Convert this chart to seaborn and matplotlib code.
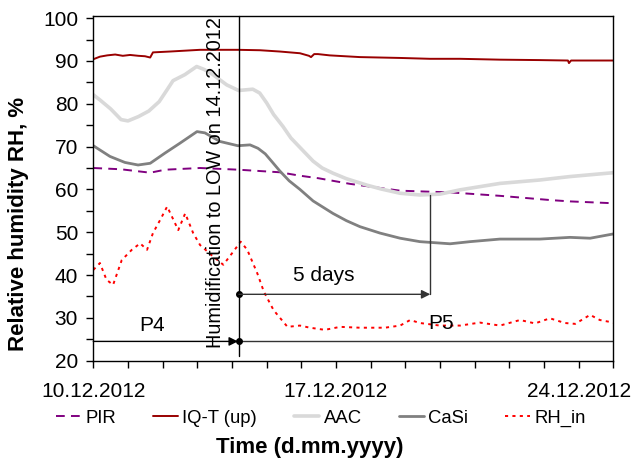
import matplotlib
matplotlib.use("Agg")
import matplotlib.pyplot as plt
import seaborn as sns
import pandas as pd
from matplotlib.ticker import MultipleLocator

# ---------------- data (days after 10.12.2012, RH in %) ----------------
tick_days = [0, 7, 14]
tick_labels = ["10.12.2012", "17.12.2012", "24.12.2012"]

pir_day = [0, 0.8, 1.64, 2.07, 3.08, 4.19, 5.38, 5.96, 6.5, 7.4, 8.85, 10.3, 11.73, 13.2, 13.75, 14.9]
pir_rh = [65.0, 64.7, 63.9, 64.6, 65.0, 64.6, 64.0, 63.2, 62.6, 61.3, 59.7, 59.3, 58.5, 57.5, 57.2, 56.8]

iqt_day = [0, 0.19, 0.4, 0.63, 0.85, 1.06, 1.3, 1.49, 1.64, 1.72, 2.21, 3.08, 4.17, 4.81, 5.38,
           5.96, 6.22, 6.28, 6.37, 6.48, 6.82, 7.69, 8.85, 9.71, 10.58, 11.73, 12.88, 13.69, 13.72, 13.78, 15.0]
iqt_rh = [90.4, 91.0, 91.3, 91.5, 91.2, 91.4, 91.2, 91.1, 90.8, 92.0, 92.2, 92.6, 92.6, 92.5, 92.2,
          91.8, 91.2, 90.9, 91.6, 91.6, 91.3, 90.9, 90.7, 90.5, 90.5, 90.3, 90.2, 90.1, 89.5, 90.1, 90.1]

aac_day = [0, 0.19, 0.5, 0.8, 1.0, 1.3, 1.6, 1.9, 2.13, 2.3, 2.64, 2.98, 3.2, 3.45, 3.85, 4.19, 4.6,
           4.8, 5.0, 5.2, 5.47, 5.7, 5.96, 6.34, 6.6, 6.91, 7.3, 7.89, 8.3, 8.85, 9.42, 10.0, 10.58,
           11.73, 12.88, 13.75, 15.0]
aac_rh = [82.1, 80.9, 78.8, 76.3, 76.0, 77.0, 78.3, 80.5, 83.3, 85.4, 86.8, 88.7, 88.0, 86.8, 84.4, 83.1, 83.4,
          82.5, 80.2, 77.5, 74.7, 72.0, 69.8, 66.6, 65.0, 63.8, 62.5, 61.0, 60.1, 59.1, 58.7, 58.9, 59.9,
          61.4, 62.2, 63.0, 63.9]

casi_day = [0, 0.48, 0.91, 1.29, 1.64, 2.07, 2.5, 2.99, 3.22, 3.65, 4.17, 4.52, 4.75, 4.96, 5.15, 5.38,
            5.65, 5.96, 6.34, 6.91, 7.3, 7.69, 8.27, 8.85, 9.42, 10.29, 10.87, 11.73, 12.88, 13.75,
            14.33, 15.0]
casi_rh = [70.2, 67.7, 66.3, 65.7, 66.1, 68.5, 70.8, 73.5, 73.2, 71.2, 70.2, 70.4, 69.6, 68.3, 66.5, 64.3,
           62.0, 60.0, 57.3, 54.4, 52.7, 51.3, 49.8, 48.6, 47.8, 47.3, 47.8, 48.4, 48.4, 48.8,
           48.6, 49.6]

rhin_day = [0, 0.19, 0.38, 0.57, 0.82, 1.11, 1.35, 1.55, 1.72, 1.93, 2.13, 2.45, 2.65, 2.88, 3.08, 3.46,
            3.75, 4.04, 4.25, 4.44, 4.73, 4.92, 5.2, 5.6, 5.96, 6.25, 6.68, 7.12, 7.69, 8.41, 8.85, 9.14,
            9.42, 10.0, 10.58, 11.15, 11.73, 12.31, 12.74, 13.17, 13.6, 13.9, 14.33, 14.61, 15.0]
rhin_rh = [41.2, 42.8, 38.9, 37.7, 43.5, 45.9, 47.4, 45.9, 49.8, 52.9, 56.0, 50.5, 54.4, 49.8, 47.0, 44.3,
           42.4, 45.5, 47.8, 45.9, 40.4, 36.1, 31.8, 27.9, 28.2, 27.7, 27.2, 27.9, 27.7, 27.7, 28.2, 29.5,
           28.8, 28.2, 28.2, 28.9, 28.2, 29.5, 28.7, 29.9, 28.8, 28.6, 30.7, 29.5, 28.9]

event_day = 4.2          # humidification to LOW
five_day_end = 9.72
p_level = 24.5
arrow_level = 35.5

# ---------------- style ----------------
sns.set_theme(style="ticks")
plt.rcParams['font.family'] = ['Liberation Sans', 'DejaVu Sans']
for k in ['text.color', 'axes.labelcolor', 'xtick.color', 'ytick.color', 'axes.edgecolor']:
    plt.rcParams[k] = 'black'

fig = plt.figure(figsize=(6.34, 4.62), dpi=100)
ax = fig.add_axes([0.1472, 0.2193, 0.8202, 0.7461])

series = [
    ("PIR", pir_day, pir_rh, dict(color="#800080", linewidth=1.4, dashes=(4.5, 3.2))),
    ("IQ-T (up)", iqt_day, iqt_rh, dict(color="#990000", linewidth=1.4)),
    ("AAC", aac_day, aac_rh, dict(color="#D9D9D9", linewidth=2.6)),
    ("CaSi", casi_day, casi_rh, dict(color="#808080", linewidth=2.0)),
    ("RH_in", rhin_day, rhin_rh, dict(color="#FF0000", linewidth=1.4, dashes=(1.6, 2.2))),
]

handles = []
for name, d, v, kw in series:
    df = pd.DataFrame({"day": d, "rh": v})
    dashes = kw.pop("dashes", None)
    sns.lineplot(data=df, x="day", y="rh", ax=ax, label=name, **kw)
    line = ax.get_lines()[-1]
    if dashes is not None:
        line.set_dashes(dashes)
    handles.append(line)

# ---------------- annotations ----------------
line_col = "#333333"
ax.plot([event_day, event_day], [21.0, 100.5], color="black", lw=1.0, clip_on=False)
ax.annotate("", xy=(event_day - 0.03, p_level), xytext=(0, p_level),
            arrowprops=dict(arrowstyle="-|>", color="black", lw=1.0, shrinkA=0, shrinkB=0,
                            mutation_scale=13))
ax.plot([event_day, 15], [p_level, p_level], color=line_col, lw=1.0)
ax.plot([event_day], [p_level], marker="o", ms=4, color="black")

ax.annotate("", xy=(five_day_end, arrow_level), xytext=(event_day, arrow_level),
            arrowprops=dict(arrowstyle="-|>", color=line_col, lw=1.0, shrinkA=0, shrinkB=0,
                            mutation_scale=13))
ax.plot([event_day], [arrow_level], marker="o", ms=4, color="black")
ax.plot([five_day_end, five_day_end], [arrow_level, 58.7], color=line_col, lw=1.0)

ax.text(3.51, 61.6, "Humidification to LOW on 14.12.2012", rotation=90, ha="center", va="center",
        fontsize=14.3)
ax.text(6.65, 40.0, "5 days", ha="center", va="center", fontsize=15)
ax.text(1.68, 28.3, "P4", ha="center", va="center", fontsize=15)
ax.text(10.03, 28.6, "P5", ha="center", va="center", fontsize=15)

# ---------------- axes ----------------
ax.set_xlim(0, 15)
ax.set_ylim(20, 100.5)
ax.set_xticks(tick_days)
ax.set_xticklabels(tick_labels)
ax.xaxis.set_minor_locator(MultipleLocator(1))
ax.yaxis.set_major_locator(MultipleLocator(10))
ax.yaxis.set_minor_locator(MultipleLocator(5))
ax.tick_params(which="both", direction="out", length=5, width=1, color="black")
ax.tick_params(axis="x", which="major", labelsize=15, pad=10)
ax.tick_params(axis="y", which="major", labelsize=15, pad=6)
for sp in ax.spines.values():
    sp.set_color("black")
    sp.set_linewidth(1.0)

ax.set_xlabel("Time (d.mm.yyyy)", fontsize=16, fontweight="bold")
ax.set_ylabel("Relative humidity RH, %", fontsize=16, fontweight="bold")
ax.xaxis.set_label_coords(0.417, -0.221)
ax.yaxis.set_label_coords(-0.124, 0.398)

ax.legend(handles=handles, labels=[s[0] for s in series], loc="center",
          bbox_to_anchor=(0.506, 0.095), bbox_transform=fig.transFigure, ncol=5,
          frameon=False, fontsize=13.3, handlelength=1.35, handletextpad=0.25,
          columnspacing=2.0, borderaxespad=0)

fig.savefig("out.png", dpi=100)
